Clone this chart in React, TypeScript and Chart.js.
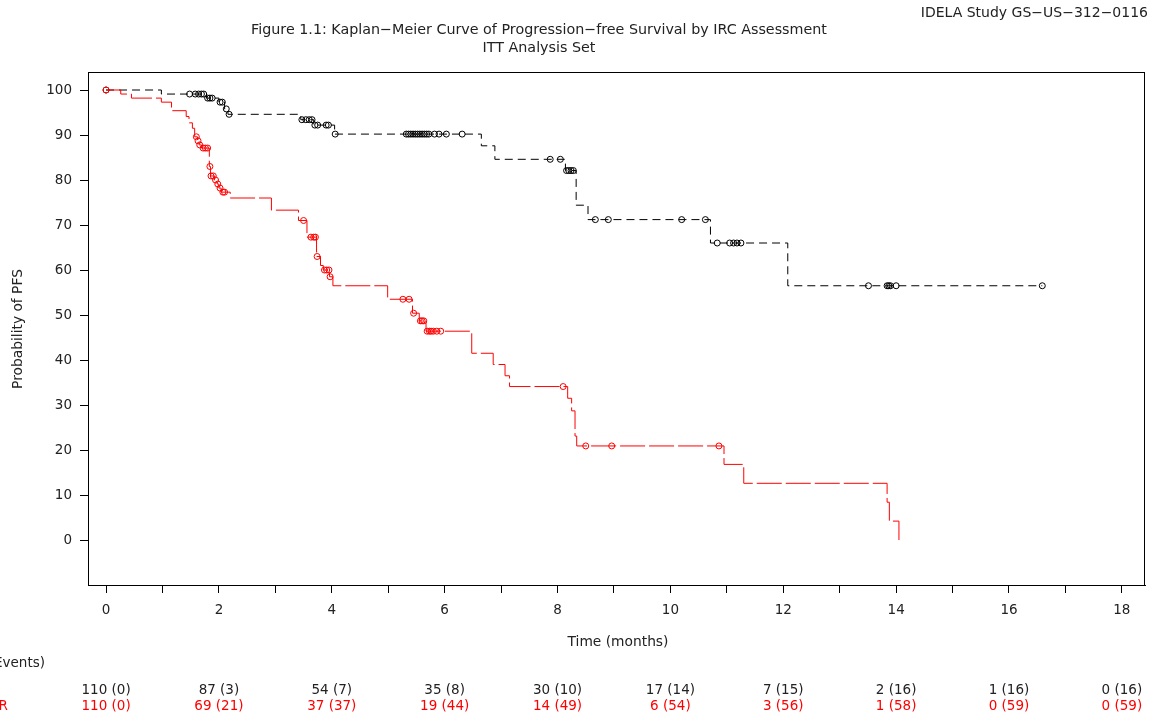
import React, { useEffect, useRef } from 'react';
import { Chart, registerables } from 'chart.js';

Chart.register(...registerables);

const FONT_FAMILY = '"DejaVu Sans", "Liberation Sans", sans-serif';
const TEXT_COLOR = '#222';
const IDELA_COLOR = '#000000';
const PLACEBO_COLOR = '#ff0000';

// Kaplan-Meier step points: each survival value holds from its time onward
const idelaStepTimes = [0, 0.98, 1.78, 2.0, 2.1, 2.16, 3.45, 3.68, 4.05, 6.65, 6.89, 8.14, 8.33, 8.54, 10.71, 12.08, 16.59];
const idelaStepSurv = [100, 99.1, 98.2, 97.3, 95.8, 94.6, 93.4, 92.2, 90.2, 87.6, 84.6, 82.1, 74.4, 71.2, 66.0, 56.5, 56.5];
const idelaCensorTimes = [
  0, 1.48, 1.58, 1.64, 1.69, 1.73, 1.8, 1.84, 1.88, 2.02, 2.06, 2.13, 2.18,
  3.47, 3.54, 3.6, 3.65, 3.7, 3.75, 3.9, 3.94, 4.06,
  5.32, 5.36, 5.4, 5.44, 5.48, 5.52, 5.56, 5.6, 5.64, 5.68, 5.72, 5.82, 5.9, 6.03, 6.31,
  7.87, 8.05, 8.16, 8.2, 8.24, 8.28, 8.67, 8.9, 10.2, 10.62,
  10.83, 11.05, 11.12, 11.18, 11.25, 13.51, 13.84, 13.87, 13.9, 14.0, 16.59,
];

const placeboStepTimes = [
  0, 0.26, 0.45, 0.98, 1.16, 1.42, 1.47, 1.53, 1.57, 1.62,
  1.65, 1.69, 1.83, 1.85, 1.92, 1.97, 2.0, 2.04, 2.2, 2.93,
  3.41, 3.56, 3.73, 3.8, 3.85, 3.96, 4.02, 4.99, 5.43, 5.55,
  5.67, 6.48, 6.86, 7.07, 7.15, 8.18, 8.25, 8.31, 8.34, 10.95,
  11.3, 13.84, 13.88, 14.05,
];
const placeboStepSurv = [
  100, 99.1, 98.2, 97.3, 95.4, 94.1, 92.7, 91.5, 89.6, 88.7,
  87.8, 87.1, 83.0, 80.9, 80.0, 79.1, 78.2, 77.3, 76.0, 73.3,
  71.0, 67.3, 63.0, 61.0, 60.0, 58.5, 56.5, 53.5, 50.4, 48.7,
  46.4, 41.5, 39.0, 36.5, 34.1, 31.5, 28.7, 23.1, 20.9, 16.8,
  12.6, 8.4, 4.2, 0,
];
const placeboCensorTimes = [
  0, 1.6, 1.63, 1.66, 1.72, 1.76, 1.8, 1.84, 1.86, 1.9, 1.94, 1.98, 2.02, 2.07, 2.1,
  3.5, 3.63, 3.68, 3.71, 3.74, 3.87, 3.91, 3.95, 3.97,
  5.26, 5.37, 5.45, 5.57, 5.6, 5.63, 5.69, 5.73, 5.76, 5.8, 5.86, 5.93,
  8.1, 8.5, 8.96, 10.86,
];

// Number at risk (cumulative events) every 2 months
const riskTimes = [0, 2, 4, 6, 8, 10, 12, 14, 16, 18];
const idelaAtRisk = [110, 87, 54, 35, 30, 17, 7, 2, 1, 0];
const idelaEvents = [0, 3, 7, 8, 10, 14, 15, 16, 16, 16];
const placeboAtRisk = [110, 69, 37, 19, 14, 6, 3, 1, 0, 0];
const placeboEvents = [0, 21, 37, 44, 49, 54, 56, 58, 59, 59];

const xTickValues = [0, 1, 2, 3, 4, 5, 6, 7, 8, 9, 10, 11, 12, 13, 14, 15, 16, 17, 18];
const yTickValues = [0, 10, 20, 30, 40, 50, 60, 70, 80, 90, 100];

const studyLabel = 'IDELA Study GS\u2212US\u2212312\u22120116';
const titleLine1 = 'Figure 1.1: Kaplan\u2212Meier Curve of Progression\u2212free Survival by IRC Assessment';
const titleLine2 = 'ITT Analysis Set';
const yAxisTitle = 'Probability of PFS';
const xAxisTitle = 'Time (months)';
const riskHeader = 'Number of Subjects at Risk (Events)';
const idelaLabel = 'IDELA + R';
const placeboLabel = 'Placebo + R';

function survAt(times: number[], surv: number[], t: number): number {
  let v = surv[0];
  for (let i = 0; i < times.length; i++) {
    if (times[i] <= t) v = surv[i];
  }
  return v;
}

function stepPoints(times: number[], surv: number[]) {
  return times.map((t, i) => ({ x: t, y: surv[i] }));
}

function censorPoints(censors: number[], times: number[], surv: number[]) {
  return censors.map((t) => ({ x: t, y: survAt(times, surv, t) }));
}

const decorPlugin = {
  id: 'kmDecor',
  afterDraw(chart: any) {
    const { ctx, chartArea: a } = chart;
    const xs = chart.scales.x;
    ctx.save();

    // frame around the plot area
    ctx.strokeStyle = '#000';
    ctx.lineWidth = 1;
    ctx.strokeRect(Math.round(a.left) + 0.5, Math.round(a.top) + 0.5, Math.round(a.right - a.left) - 1, Math.round(a.bottom - a.top));

    ctx.fillStyle = TEXT_COLOR;
    ctx.textBaseline = 'middle';

    ctx.font = `14px ${FONT_FAMILY}`;
    ctx.textAlign = 'right';
    ctx.fillText(studyLabel, 1148, 13);

    ctx.font = `14.3px ${FONT_FAMILY}`;
    ctx.textAlign = 'center';
    ctx.fillText(titleLine1, 539, 30);
    ctx.fillText(titleLine2, 539, 48);

    ctx.font = `13.8px ${FONT_FAMILY}`;
    ctx.fillText(xAxisTitle, 618, 642);

    ctx.save();
    ctx.translate(18, 329);
    ctx.rotate(-Math.PI / 2);
    ctx.fillText(yAxisTitle, 0, 0);
    ctx.restore();

    // number-at-risk table
    ctx.font = `13.5px ${FONT_FAMILY}`;
    ctx.textAlign = 'right';
    ctx.fillText(riskHeader, 45, 663);

    const labelX = 8 - ctx.measureText(placeboLabel).width;
    ctx.textAlign = 'left';
    ctx.fillStyle = TEXT_COLOR;
    ctx.fillText(idelaLabel, labelX, 690);
    ctx.fillStyle = PLACEBO_COLOR;
    ctx.fillText(placeboLabel, labelX, 706);

    ctx.textAlign = 'center';
    riskTimes.forEach((t, i) => {
      const px = xs.getPixelForValue(t);
      ctx.fillStyle = TEXT_COLOR;
      ctx.fillText(`${idelaAtRisk[i]} (${idelaEvents[i]})`, px, 690);
      ctx.fillStyle = PLACEBO_COLOR;
      ctx.fillText(`${placeboAtRisk[i]} (${placeboEvents[i]})`, px, 706);
    });

    ctx.restore();
  },
};

export default function App() {
  const canvasRef = useRef<HTMLCanvasElement | null>(null);

  useEffect(() => {
    const canvas = canvasRef.current;
    if (!canvas) return;

    const chart = new Chart(canvas, {
      type: 'line',
      data: {
        datasets: [
          {
            label: 'Placebo + R censored',
            data: censorPoints(placeboCensorTimes, placeboStepTimes, placeboStepSurv),
            showLine: false,
            pointStyle: 'circle',
            pointRadius: 3,
            pointBorderWidth: 1,
            pointBorderColor: PLACEBO_COLOR,
            pointBackgroundColor: 'rgba(0,0,0,0)',
            borderColor: PLACEBO_COLOR,
          },
          {
            label: 'Placebo + R',
            data: stepPoints(placeboStepTimes, placeboStepSurv),
            stepped: 'before',
            borderColor: PLACEBO_COLOR,
            borderWidth: 1,
            borderDash: [25, 4],
            pointRadius: 0,
            fill: false,
          },
          {
            label: 'IDELA + R censored',
            data: censorPoints(idelaCensorTimes, idelaStepTimes, idelaStepSurv),
            showLine: false,
            pointStyle: 'circle',
            pointRadius: 3,
            pointBorderWidth: 1,
            pointBorderColor: IDELA_COLOR,
            pointBackgroundColor: 'rgba(0,0,0,0)',
            borderColor: IDELA_COLOR,
          },
          {
            label: 'IDELA + R',
            data: stepPoints(idelaStepTimes, idelaStepSurv),
            stepped: 'before',
            borderColor: IDELA_COLOR,
            borderWidth: 1,
            borderDash: [8, 5],
            pointRadius: 0,
            fill: false,
          },
        ],
      },
      options: {
        responsive: false,
        animation: false,
        events: [],
        layout: { padding: { top: 72, right: 2, bottom: 0, left: 0 } },
        plugins: {
          legend: { display: false },
          tooltip: { enabled: false },
          title: { display: false },
        },
        scales: {
          x: {
            type: 'linear',
            min: -0.32,
            max: 18.41,
            afterFit: (scale: any) => {
              scale.height = 132;
            },
            afterBuildTicks: (scale: any) => {
              scale.ticks = xTickValues.map((v) => ({ value: v }));
            },
            ticks: {
              autoSkip: false,
              maxRotation: 0,
              padding: 9,
              color: TEXT_COLOR,
              font: { family: FONT_FAMILY, size: 13.5 },
              callback: (v: any) => (Number(v) % 2 === 0 ? String(v) : ''),
            },
            grid: { drawOnChartArea: false, drawTicks: true, tickLength: 8, color: '#000' },
            border: { display: true, color: '#000' },
          },
          y: {
            type: 'linear',
            min: -10,
            max: 104,
            afterFit: (scale: any) => {
              scale.width = 88;
            },
            afterBuildTicks: (scale: any) => {
              scale.ticks = yTickValues.map((v) => ({ value: v }));
            },
            ticks: {
              autoSkip: false,
              padding: 8,
              color: TEXT_COLOR,
              font: { family: FONT_FAMILY, size: 13.5 },
            },
            grid: { drawOnChartArea: false, drawTicks: true, tickLength: 8, color: '#000' },
            border: { display: true, color: '#000' },
          },
        },
      },
      plugins: [decorPlugin],
    });

    return () => chart.destroy();
  }, []);

  return (
    <div style={{ position: 'fixed', left: 0, top: 0, width: 1150, height: 717, background: '#fff' }}>
      <canvas ref={canvasRef} width={1150} height={717} style={{ display: 'block' }} />
    </div>
  );
}
